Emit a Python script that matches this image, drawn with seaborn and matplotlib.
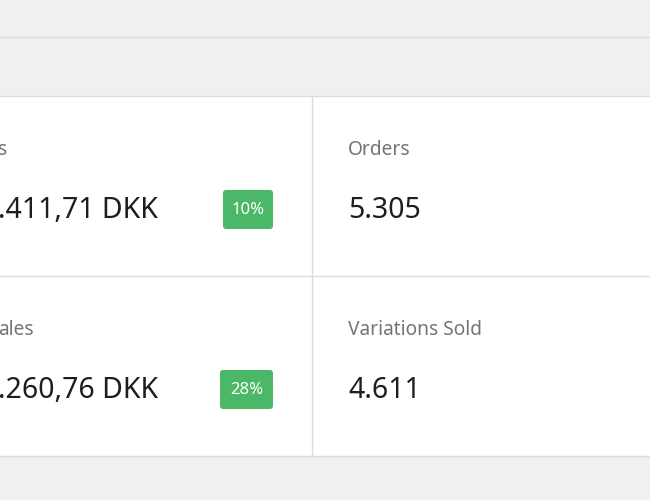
import matplotlib
matplotlib.use("Agg")
import matplotlib.pyplot as plt
import seaborn as sns
from matplotlib.patches import Rectangle, FancyBboxPatch

sns.set_theme(style="white")
plt.rcParams['font.family'] = ['Noto Sans', 'DejaVu Sans']

labels = ["s", "Orders", "ales", "Variations Sold"]
values = [".411,71 DKK", "5.305", ".260,76 DKK", "4.611"]
badges = ["10%", None, "28%", None]

fig = plt.figure(figsize=(6.5, 5), dpi=100)
ax = fig.add_axes([0, 0, 1, 1])
ax.set_xlim(0, 650); ax.set_ylim(500, 0); ax.axis("off")
fig.patch.set_facecolor("#f0f0f0")

ax.add_patch(Rectangle((0, 36), 650, 60, color="#f0f0f1", lw=0))
ax.plot([0, 650], [36.5, 36.5], color="#dcdcde", lw=1)
ax.add_patch(Rectangle((-5, 96), 660, 360, facecolor="white", edgecolor="#dcdcde", lw=1))
ax.plot([311.5, 311.5], [96, 456], color="#dcdcde", lw=1)
ax.plot([0, 650], [275.5, 275.5], color="#dcdcde", lw=1)

xs = [0, 350, 0, 350]
ys = [150, 150, 330, 330]
bx = [(223, 50), None, (220, 53), None]
for i in range(4):
    ax.text(xs[i] - 2, ys[i], labels[i], fontsize=13.8, color="#757575", va="center", ha="left")
    ax.text(xs[i] - 2, ys[i] + 61, values[i], fontsize=20.5, color="#1e1e1e", va="center", ha="left")
    if badges[i]:
        x0, w = bx[i]
        ax.add_patch(FancyBboxPatch((x0, ys[i] + 40), w, 39,
                                    boxstyle="round,pad=0,rounding_size=3",
                                    facecolor="#4ab866", edgecolor="none"))
        ax.text(x0 + w / 2, ys[i] + 59.5, badges[i], fontsize=12, color="white",
                fontweight="semibold", ha="center", va="center")

fig.savefig("out.png", dpi=100, facecolor=fig.get_facecolor())
